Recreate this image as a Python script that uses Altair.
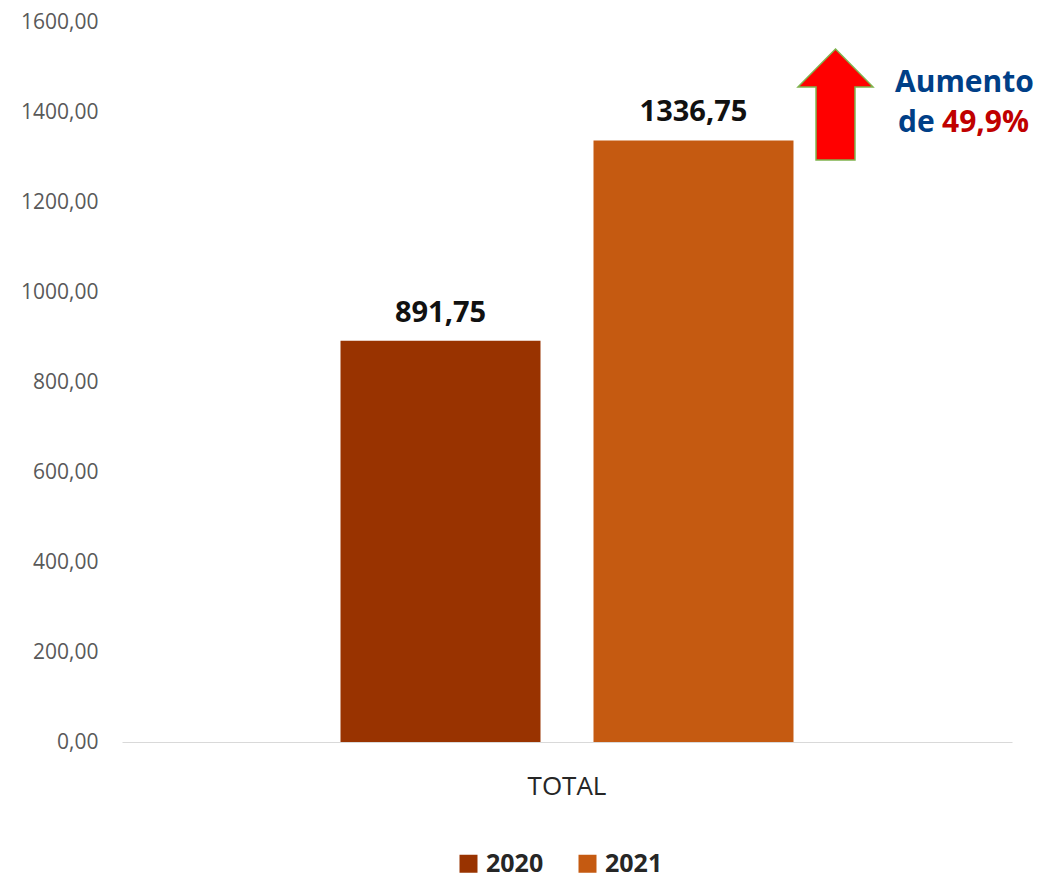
import altair as alt
import pandas as pd

# ---- data ----
category = ["TOTAL", "TOTAL"]
years = ["2020", "2021"]
values = [891.75, 1336.75]
colors = ["#993300", "#C55A11"]
y_ticks = [0, 200, 400, 600, 800, 1000, 1200, 1400, 1600]

annot_texts = ["Aumento", "de", "49,9%"]
annot_colors = ["#003F87", "#003F87", "#C00000"]
annot_x = [773, 776, 820]
annot_y = [70, 110, 110]

df = pd.DataFrame({"category": category, "year": years, "value": values})
df_annot = pd.DataFrame({"text": annot_texts, "color": annot_colors,
                         "px": annot_x, "py": annot_y})

FONT = "Open Sans"
fmt = "replace(format(datum.value, '.2f'), '.', ',')"

base = alt.Chart(df).encode(
    x=alt.X("category:N",
            scale=alt.Scale(paddingInner=0, paddingOuter=0),
            axis=alt.Axis(title=None, labelAngle=0, ticks=False, tickSize=0,
                          labelPadding=31, labelFont=FONT, labelFontSize=26,
                          labelColor="#262626", domainColor="#D9D9D9",
                          domainWidth=1, grid=False)),
    xOffset=alt.XOffset("year:N",
                        scale=alt.Scale(paddingInner=0.2095, paddingOuter=0.8637)),
    y=alt.Y("value:Q",
            scale=alt.Scale(domain=[0, 1600], nice=False),
            axis=alt.Axis(title=None, values=y_ticks, grid=False, domain=False,
                          ticks=False, tickSize=0, labelExpr=fmt,
                          labelFont=FONT, labelFontSize=21, labelColor="#595959",
                          labelPadding=24)),
)

bars = base.mark_bar().encode(
    color=alt.Color("year:N",
                    scale=alt.Scale(domain=years, range=colors),
                    legend=alt.Legend(orient="none", legendX=334, legendY=829,
                                      direction="horizontal", title=None,
                                      symbolType="square", symbolSize=324,
                                      symbolStrokeWidth=0,
                                      labelFont=FONT, labelFontSize=25,
                                      labelFontWeight="bold", labelColor="#262626",
                                      labelOffset=5, columnPadding=31))
)

labels = base.transform_calculate(
    label="replace(format(datum.value, '.2f'), '.', ',')"
).mark_text(baseline="alphabetic", dy=-19, font=FONT, fontSize=29,
            fontWeight="bold", color="#111111").encode(text="label:N")

arrow_path = ("M0,-1L0.676,-0.315L0.351,-0.315L0.351,1L-0.351,1"
              "L-0.351,-0.315L-0.676,-0.315Z")
arrow = alt.Chart(pd.DataFrame({"a": [1]})).mark_point(
    shape=arrow_path, filled=True, fill="#FF0000", stroke="#7FB34D",
    strokeWidth=1.5, opacity=1, size=12321
).encode(x=alt.value(713.5), y=alt.value(82.5))

annot = alt.Chart(df_annot).mark_text(
    align="left", baseline="alphabetic", font=FONT, fontSize=30, fontWeight="bold"
).encode(
    x=alt.X("px:Q", scale=None),
    y=alt.Y("py:Q", scale=None),
    text="text:N",
    color=alt.Color("color:N", scale=None),
)

chart = alt.layer(bars, labels, arrow, annot).properties(
    width=890, height=720,
    autosize=alt.AutoSizeParams(type="none"),
    padding={"left": 114, "top": 14, "right": 25, "bottom": 138},
).configure_view(stroke=None)

chart.save("out.html", embed_options={"renderer": "svg", "actions": False})
